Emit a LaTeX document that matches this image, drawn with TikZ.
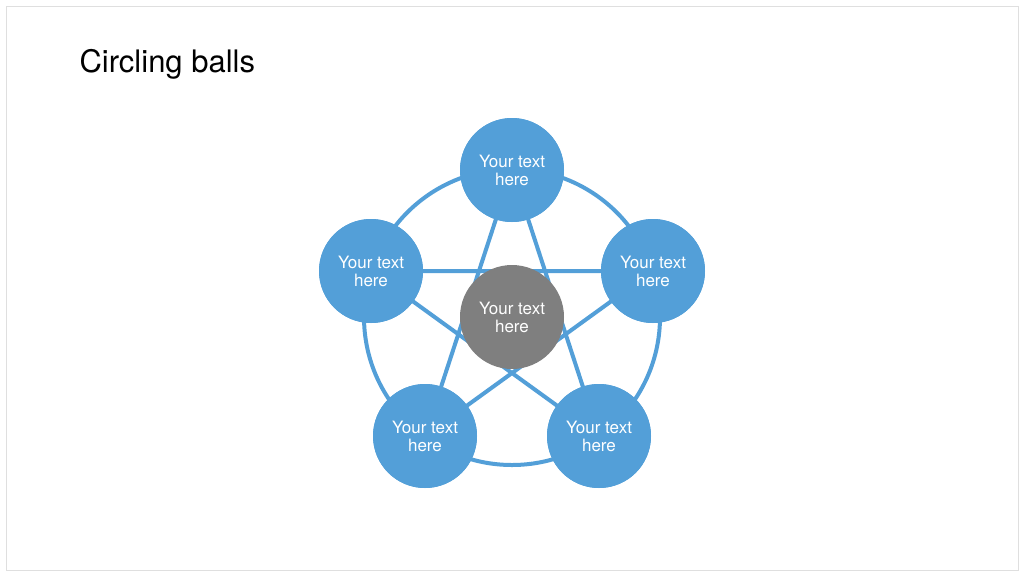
\documentclass[tikz,border=0pt]{standalone}
\usepackage{fontspec}
\setmainfont{TeX Gyre Heros}
\definecolor{ballblue}{HTML}{539FD8}
\definecolor{ballgray}{HTML}{7F7F7F}
\begin{document}
\begin{tikzpicture}[x=1pt,y=-1pt,
  ball/.style={circle,fill=ballblue,minimum size=104pt,inner sep=0pt,text=white,font=\fontsize{17}{18}\selectfont,align=center},
  link/.style={draw=ballblue,line width=4pt}]
\useasboundingbox (0,0) rectangle (1024,576);
\draw[gray!25,line width=1pt] (6,6) rectangle (1018,570);
\node[anchor=west,font=\fontsize{31}{34}\selectfont] (title) at (76,64) {Circling balls};
\coordinate (c) at (512,317);
\draw[link] (c) circle (148);
\path (c) ++(90:-148) coordinate (pa);
\node[ball] (t) at (512,170) {Your text\\here};
\node[ball] (l) at (371,271) {Your text\\here};
\node[ball] (r) at (653,271) {Your text\\here};
\node[ball] (bl) at (425,436) {Your text\\here};
\node[ball] (br) at (599,436) {Your text\\here};
\draw[link] (t.center) -- (bl.center) (t.center) -- (br.center) (l.center) -- (r.center)
  (l.center) -- (br.center) (r.center) -- (bl.center);
\foreach \n/\p in {t/{512,170},l/{371,271},r/{653,271},bl/{425,436},br/{599,436}}
  \node[ball] at (\p) {Your text\\here};
\node[ball,fill=ballgray] (m) at (c) {Your text\\here};
\end{tikzpicture}
\end{document}
